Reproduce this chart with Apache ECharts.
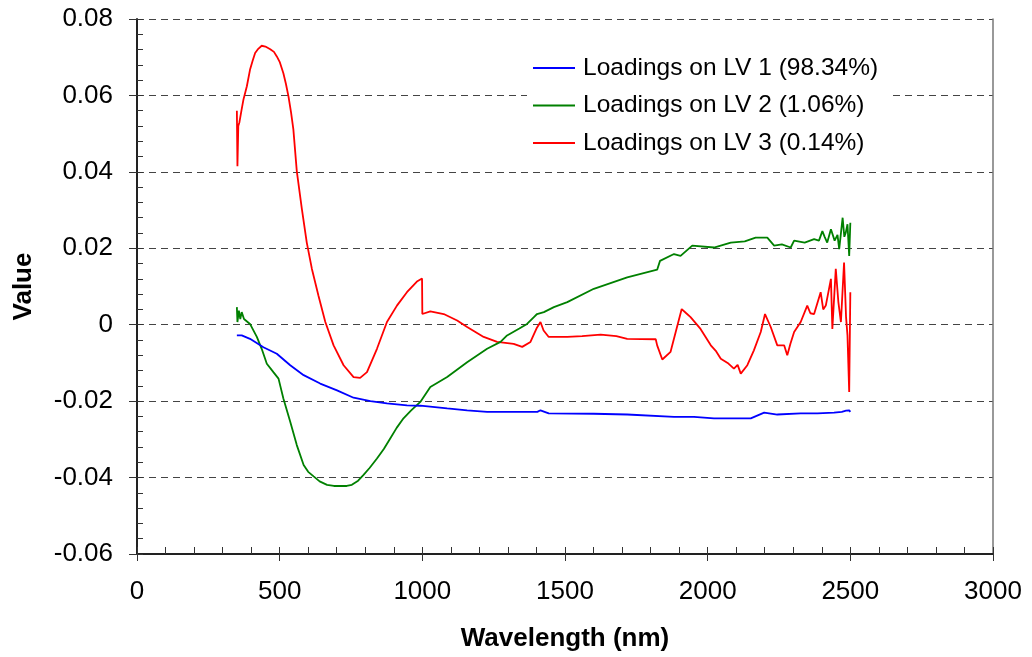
<!DOCTYPE html>
<html>
<head>
<meta charset="utf-8">
<script src="https://cdn.jsdelivr.net/npm/echarts@6/dist/echarts.min.js"></script>
<style>
    html, body { margin: 0; padding: 0; background: #fff; }
    #chart { width: 1032px; height: 657px; }
</style>
</head>
<body>
<div id="chart"></div>
<script>
// series names (legend)
const seriesNames = [
    'Loadings on LV 1 (98.34%)',
    'Loadings on LV 2 (1.06%)',
    'Loadings on LV 3 (0.14%)'
];

// LV 1 loadings
const lv1Wl = [350, 367, 396, 443, 490, 537, 584, 642, 701, 759, 818, 876, 946, 993, 1087, 1157, 1227, 1403, 1414, 1443,
    1600, 1718, 1882, 1952, 2022, 2151, 2198, 2244, 2326, 2385, 2443, 2470, 2485, 2496, 2500];
const lv1Val = [-0.0028, -0.0028, -0.0037, -0.0059, -0.0076, -0.0106, -0.0132, -0.0154, -0.0172, -0.0191, -0.0200, -0.0206,
    -0.0211, -0.0212, -0.0219, -0.0224, -0.0228, -0.0228, -0.0224, -0.0232, -0.0233, -0.0235, -0.0241, -0.0241, -0.0245,
    -0.0245, -0.0230, -0.0235, -0.0232, -0.0232, -0.0230, -0.0228, -0.0225, -0.0224, -0.0228];

// LV 2 loadings
const lv2Wl = [350, 352, 357, 362, 367, 375, 396, 420, 437, 455, 478, 496, 513, 537, 560, 584, 600, 619, 640, 666, 690,
    712, 735, 753, 775, 794, 815, 841, 865, 888, 910, 934, 960, 993, 1028, 1087, 1157, 1227, 1274, 1297, 1340, 1367,
    1391, 1402, 1426, 1461, 1508, 1601, 1718, 1823, 1833, 1882, 1905, 1946, 2022, 2081, 2130, 2168, 2209, 2233, 2260,
    2291, 2303, 2340, 2373, 2390, 2402, 2410, 2419, 2432, 2445, 2455, 2461, 2473, 2479, 2484, 2490, 2496, 2500];
const lv2Val = [0.0046, 0.0007, 0.0037, 0.0015, 0.0033, 0.0015, 0.0002, -0.0032, -0.0063, -0.0102, -0.0124, -0.0141,
    -0.0193, -0.0254, -0.0315, -0.0367, -0.0385, -0.0397, -0.0410, -0.0419, -0.0422, -0.0422, -0.0422, -0.0419, -0.0408,
    -0.0393, -0.0375, -0.0350, -0.0325, -0.0297, -0.0270, -0.0245, -0.0225, -0.0202, -0.0163, -0.0137, -0.0098, -0.0063,
    -0.0045, -0.0028, -0.0010, 0.0002, 0.0020, 0.0028, 0.0033, 0.0046, 0.0059, 0.0094, 0.0124, 0.0144, 0.0167, 0.0185,
    0.0180, 0.0207, 0.0202, 0.0215, 0.0218, 0.0228, 0.0228, 0.0207, 0.0210, 0.0202, 0.0220, 0.0215, 0.0224, 0.0220,
    0.0245, 0.0230, 0.0215, 0.0250, 0.0220, 0.0235, 0.0198, 0.0280, 0.0230, 0.0241, 0.0263, 0.0180, 0.0267];

// LV 3 loadings
const lv3Wl = [350, 352, 355, 359, 366, 373, 385, 396, 405, 414, 425, 437, 450, 467, 480, 490, 500, 513, 522, 531, 540,
    548, 560, 578, 595, 613, 636, 660, 689, 724, 759, 782, 806, 841, 876, 911, 946, 981, 999, 1000, 1028, 1075, 1122,
    1157, 1215, 1262, 1320, 1350, 1379, 1400, 1414, 1425, 1443, 1508, 1560, 1625, 1680, 1718, 1818, 1823, 1841, 1870,
    1888, 1909, 1925, 1940, 1975, 2011, 2030, 2046, 2070, 2092, 2105, 2116, 2139, 2162, 2186, 2201, 2221, 2244, 2268,
    2279, 2290, 2303, 2326, 2349, 2360, 2373, 2396, 2405, 2414, 2432, 2437, 2449, 2458, 2467, 2478, 2485, 2490, 2496, 2500];
const lv3Val = [0.0560, 0.0415, 0.0520, 0.0530, 0.0560, 0.0589, 0.0624, 0.0667, 0.0690, 0.0711, 0.0722, 0.0730, 0.0728,
    0.0721, 0.0714, 0.0702, 0.0688, 0.0658, 0.0630, 0.0597, 0.0555, 0.0511, 0.0402, 0.0302, 0.0215, 0.0146, 0.0076,
    0.0007, -0.0054, -0.0106, -0.0137, -0.0139, -0.0124, -0.0063, 0.0007, 0.0050, 0.0085, 0.0113, 0.0121, 0.0028, 0.0035,
    0.0028, 0.0011, -0.0006, -0.0032, -0.0045, -0.0050, -0.0058, -0.0045, -0.0010, 0.0007, -0.0015, -0.0032, -0.0032,
    -0.0030, -0.0026, -0.0030, -0.0037, -0.0038, -0.0054, -0.0091, -0.0071, -0.0019, 0.0041, 0.0030, 0.0020, -0.0011,
    -0.0054, -0.0070, -0.0089, -0.0100, -0.0115, -0.0105, -0.0128, -0.0106, -0.0067, -0.0019, 0.0028, -0.0006, -0.0054,
    -0.0054, -0.0080, -0.0050, -0.0019, 0.0007, 0.0050, 0.0030, 0.0028, 0.0085, 0.0040, 0.0050, 0.0120, -0.0011, 0.0146,
    0.0060, 0.0007, 0.0163, 0.0020, -0.0028, -0.0176, 0.0085];

const seriesColors = ['#0000ff', '#008000', '#ff0000'];

function pairs(xs, ys) {
    return xs.map((x, i) => [x, ys[i]]);
}

const allData = [pairs(lv1Wl, lv1Val), pairs(lv2Wl, lv2Val), pairs(lv3Wl, lv3Val)];

const font = 'Liberation Sans, Arial, sans-serif';
const myChart = echarts.init(document.getElementById('chart'), null, {renderer: 'canvas'});

const option = {
    backgroundColor: '#fff',
    animation: false,
    textStyle: {fontFamily: font},
    grid: {left: 137, right: 39, top: 19, bottom: 101, containLabel: false},
    legend: {
        orient: 'vertical',
        left: 527,
        top: 50,
        padding: [4, 10, 4, 6],
        backgroundColor: '#fff',
        icon: 'rect',
        itemWidth: 42,
        itemHeight: 2,
        itemGap: 9.5,
        textStyle: {fontSize: 24.5, lineHeight: 28, color: '#000', fontFamily: font, padding: [0, 0, 0, 3]},
        data: seriesNames
    },
    xAxis: [
        {
            type: 'value', min: 0, max: 3000, interval: 500,
            name: 'Wavelength (nm)', nameLocation: 'middle', nameGap: 72,
            nameTextStyle: {fontSize: 26, fontWeight: 'bold', color: '#000', fontFamily: font},
            axisLine: {show: true, onZero: false, lineStyle: {color: '#222', width: 2}},
            axisTick: {show: true, inside: false, length: 7, lineStyle: {color: '#333'}},
            axisLabel: {fontSize: 26, color: '#000', margin: 25, fontFamily: font, formatter: v => String(v)},
            splitLine: {show: false}
        },
        {
            // minor ticks, pointing inward
            type: 'value', min: 0, max: 3000, interval: 100, position: 'bottom',
            axisLine: {show: false, onZero: false},
            axisTick: {show: true, inside: true, length: 7, lineStyle: {color: '#333'}},
            axisLabel: {show: false},
            splitLine: {show: false}
        }
    ],
    yAxis: [
        {
            type: 'value', min: -0.06, max: 0.08, interval: 0.02,
            name: 'Value', nameLocation: 'middle', nameGap: 100, nameRotate: 90,
            nameTextStyle: {fontSize: 26, fontWeight: 'bold', color: '#000', fontFamily: font},
            axisLine: {show: true, onZero: false, lineStyle: {color: '#222', width: 2}},
            axisTick: {show: true, inside: false, length: 8, lineStyle: {color: '#333'}},
            axisLabel: {
                fontSize: 26, color: '#000', margin: 24, fontFamily: font,
                formatter: v => (Math.abs(v) < 1e-9 ? '0' : v.toFixed(2))
            },
            splitLine: {show: true, lineStyle: {color: '#444', type: [7, 5], width: 1}}
        },
        {
            // minor ticks, pointing inward
            type: 'value', min: -0.06, max: 0.08, interval: 0.004, position: 'left',
            axisLine: {show: false, onZero: false},
            axisTick: {show: true, inside: true, length: 6, lineStyle: {color: '#333'}},
            axisLabel: {show: false},
            splitLine: {show: false}
        },
        {
            // right frame line
            type: 'value', min: -0.06, max: 0.08, position: 'right',
            axisLine: {show: true, onZero: false, lineStyle: {color: '#777', width: 1.5}},
            axisTick: {show: false},
            axisLabel: {show: false},
            splitLine: {show: false}
        }
    ],
    series: allData.map((d, i) => ({
        name: seriesNames[i],
        type: 'line',
        data: d,
        xAxisIndex: 0,
        yAxisIndex: 0,
        showSymbol: false,
        symbol: 'none',
        lineStyle: {color: seriesColors[i], width: 1.8},
        itemStyle: {color: seriesColors[i]},
        z: 3 + (i === 0 ? 2 : i === 1 ? 1 : 0)
    }))
};

myChart.setOption(option);
</script>
</body>
</html>
